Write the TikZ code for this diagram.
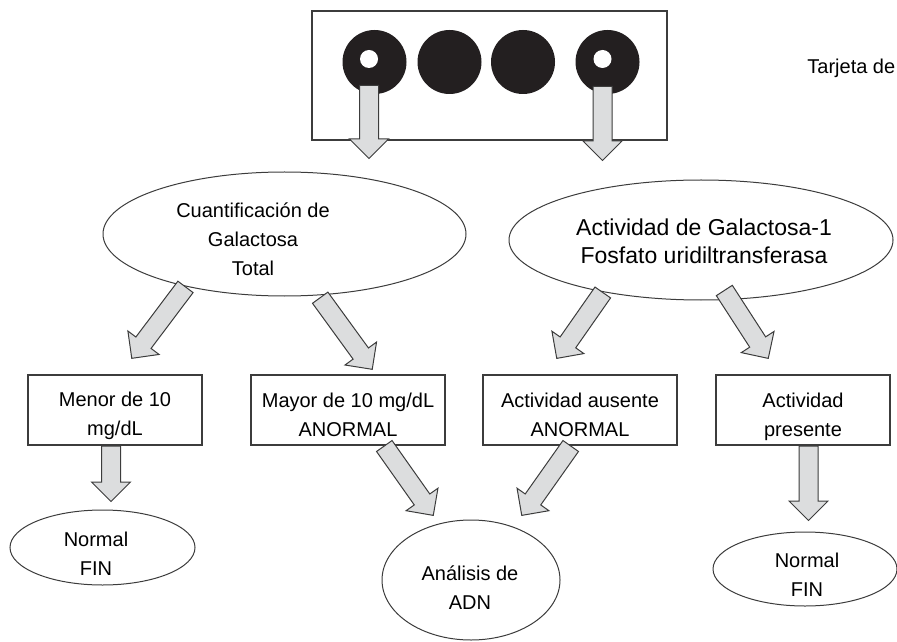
\documentclass[tikz,border=0pt]{standalone}
\usepackage{fontspec}
\setmainfont{Liberation Sans}
\usepackage{tikz}
\usetikzlibrary{positioning,shapes.geometric,shapes.arrows,calc}
\definecolor{cline}{HTML}{3C3C3C}
\definecolor{cfill}{HTML}{DCDDDE}
\definecolor{cdot}{HTML}{231F20}
\tikzset{
  card/.style={rectangle, draw=cline, fill=white, line width=0.6pt, inner sep=0pt},
  box/.style={rectangle, draw=cline, fill=white, line width=0.6pt, inner sep=0pt,
              minimum height=35pt},
  oval/.style={ellipse, draw=cline, fill=white, line width=0.5pt, inner sep=0pt},
  txt/.style={align=center, inner sep=0pt},
  disc/.style={circle, fill=cdot, inner sep=0pt, minimum size=32pt},
  hole/.style={circle, fill=white, inner sep=0pt, minimum size=9pt},
  bigarrow/.style={single arrow, draw=cline, fill=cfill, line width=0.5pt,
                   inner xsep=0pt, inner ysep=4.5pt, single arrow head extend=5pt},
  fat/.style={to path={let \p1=(\tikztostart), \p2=(\tikztotarget),
      \n1={atan2(\y2-\y1,\x2-\x1)}, \n2={veclen(\x2-\x1,\y2-\y1)} in
      node[bigarrow, minimum height=\n2, rotate=\n1, anchor=tail] at (\p1) {}}}
}

\begin{document}
\begin{tikzpicture}[x=0.5pt, y=-0.5pt, font=\fontsize{10pt}{14.5pt}\selectfont]
\useasboundingbox (0,0) rectangle (897,641);
% tarjeta
\node[card, minimum width=177.5pt, minimum height=64.5pt] (card) at (489.5,75.5) {};
\node[disc] (d1) at (374.5,62) {};
\node[disc] (d2) at (449.5,62) {};
\node[disc] (d3) at (523,62) {};
\node[disc] (d4) at (607.5,62) {};
\node[hole] (hole1) at (369,59) {};
\node[hole] (hole2) at (602.5,59) {};
\node[txt, anchor=base west] (tarjeta) at (807,74) {Tarjeta de};
% pruebas
\node[oval, minimum width=181.5pt, minimum height=62pt] (cuant) at (284.5,234) {};
\node[txt] (cuantt) at (253,239) {Cuantificación de\\Galactosa\\Total};
\node[oval, minimum width=192pt, minimum height=60pt] (activ) at (701,240) {};
\node[txt, font=\fontsize{11.5pt}{14pt}\selectfont] (activt) at (704,241)
  {Actividad de Galactosa-1\\Fosfato uridiltransferasa};
% resultados
\node[box, minimum width=87pt] (menor) at (115,410) {};
\node[txt] (menort) at (115,416) {Menor de 10\\mg/dL};
\node[box, minimum width=97pt] (mayor) at (348,410) {};
\node[txt] (mayort) at (348,415) {Mayor de 10 mg/dL\\ANORMAL};
\node[box, minimum width=97pt] (ausente) at (580,410) {};
\node[txt] (ausentet) at (580,415) {Actividad ausente\\ANORMAL};
\node[box, minimum width=87pt] (presente) at (803,410) {};
\node[txt] (presentet) at (803,416.5) {Actividad\\presente};
% finales
\node[oval, minimum width=92.5pt, minimum height=37.5pt] (fin1) at (102.5,547.5) {};
\node[txt] (fin1t) at (96,554) {Normal\\FIN};
\node[oval, minimum width=89pt, minimum height=60pt] (adn) at (471,580) {};
\node[txt] (adnt) at (470,588) {Análisis de\\ADN};
\node[oval, minimum width=92pt, minimum height=37pt] (fin2) at (805,569) {};
\node[txt] (fin2t) at (807,575) {Normal\\FIN};
% puntas
\coordinate (t1) at (369,158);  \coordinate (t2) at (602.5,160);
\coordinate (t3) at (132,358);  \coordinate (t4) at (372,369);
\coordinate (t5) at (557,358);  \coordinate (t6) at (768,358);
\coordinate (t7) at (111,501);  \coordinate (t8) at (433,515);
\coordinate (t9) at (522,515);  \coordinate (t10) at (808.5,520);
\path ([yshift=-13pt]hole1.center) to[fat] (t1);
\path ([yshift=-13.5pt]hole2.center) to[fat] (t2);
\path (cuant.208) to[fat] (t3);
\path ([yshift=-1pt]cuant.300) to[fat] (t4);
\path (activ.208) to[fat] (t5);
\path ([yshift=5pt]activ.291) to[fat] (t6);
\path ([xshift=-2pt]menor.south) to[fat] (t7);
\path ([xshift=18pt]mayor.south) to[fat] (t8);
\path ([xshift=-4.5pt]ausente.south) to[fat] (t9);
\path ([xshift=2.75pt]presente.south) to[fat] (t10);
\end{tikzpicture}
\end{document}
